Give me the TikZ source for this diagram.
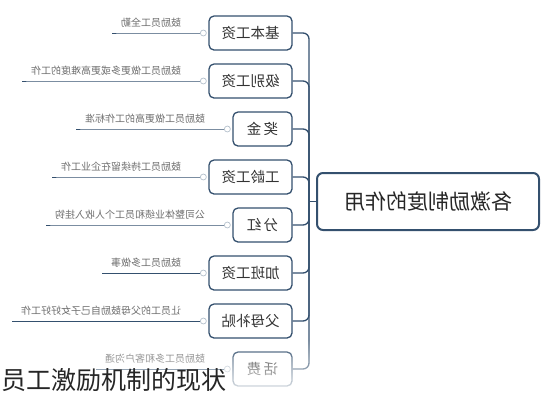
\documentclass[tikz,border=0pt]{standalone}
\usepackage{graphicx}
\usepackage{fontspec}
\setmainfont{Noto Sans CJK SC}
\usetikzlibrary{fadings}
\definecolor{boxblue}{HTML}{34506E}
\definecolor{leafgray}{HTML}{6E6E6E}
\definecolor{dotgray}{HTML}{B4C0CC}

\begin{document}
\begin{tikzpicture}[x=1bp,y=-1bp,
    mainbox/.style={draw=boxblue,line width=2bp,rounded corners=6bp,fill=white,
      minimum width=222bp,minimum height=57bp,text=black!85,
      font=\fontsize{21bp}{21bp}\selectfont},
    subbox/.style={draw=boxblue,line width=1.3bp,rounded corners=5bp,fill=white,
      minimum height=34bp,inner sep=0pt,text=black!80,
      font=\fontsize{14.5bp}{15bp}\selectfont},
    widebox/.style={subbox,minimum width=83bp},
    narrowbox/.style={subbox,minimum width=59bp},
    knob/.style={circle,draw=dotgray,fill=white,line width=0.7bp,inner sep=0pt,minimum size=6bp},
    leaftext/.style={anchor=south east,inner sep=1bp,text=leafgray,
      font=\fontsize{10bp}{10bp}\selectfont},
    branch/.style={draw=boxblue,line width=1.3bp,rounded corners=6bp},
    leaf/.style={draw=boxblue,line width=1bp}]
  \useasboundingbox (0,0) rectangle (552,400);

  % centre
  \node[mainbox] (zuoyong) at (428,201.5) {\reflectbox{各激励制度的作用}};
  \coordinate (trunk) at (309,201.5);

  % boxes
  \node[widebox] (jiben) at (250.5,33) {\reflectbox{基本工资}};
  \node[widebox] (jibie) at (250.5,81) {\reflectbox{级别工资}};
  \node[narrowbox] (jiangjin) at (262.5,129) {\reflectbox{奖\,金}};
  \node[widebox] (gongling) at (250.5,177) {\reflectbox{工龄工资}};
  \node[narrowbox] (fenhong) at (262.5,225) {\reflectbox{分\,红}};
  \node[widebox] (jiaban) at (250.5,273) {\reflectbox{加班工资}};
  \node[widebox] (fumu) at (250.5,321) {\reflectbox{父母补贴}};
  \node[narrowbox] (huafei) at (262.5,369) {\reflectbox{话\,费}};

  \draw[branch] (zuoyong.west) -- (trunk);
  \draw[branch] (jiben.east) -| (trunk);
  \draw[branch] (jibie.east) -| (trunk);
  \draw[branch] (jiangjin.east) -| (trunk);
  \draw[branch] (gongling.east) -| (trunk);
  \draw[branch] (fenhong.east) -| (trunk);
  \draw[branch] (jiaban.east) -| (trunk);
  \draw[branch] (fumu.east) -| (trunk);
  \draw[branch] (huafei.east) -| (trunk);

  % knobs
  \node[knob] (jibenK) at ([xshift=-5bp]jiben.west) {};
  \node[knob] (jibieK) at ([xshift=-5bp]jibie.west) {};
  \node[knob] (jiangjinK) at ([xshift=-5bp]jiangjin.west) {};
  \node[knob] (gonglingK) at ([xshift=-5bp]gongling.west) {};
  \node[knob] (fenhongK) at ([xshift=-5bp]fenhong.west) {};
  \node[knob] (jiabanK) at ([xshift=-5bp]jiaban.west) {};
  \node[knob] (fumuK) at ([xshift=-5bp]fumu.west) {};
  \node[knob] (huafeiK) at ([xshift=-5bp]huafei.west) {};

  % leaf texts
  \node[leaftext] (jibenT) at ([xshift=-21bp,yshift=4bp]jibenK.center) {\reflectbox{鼓励员工全勤}};
  \node[leaftext] (jibieT) at ([xshift=-21bp,yshift=4bp]jibieK.center) {\reflectbox{鼓励员工做更多或更高难度的工作}};
  \node[leaftext] (jiangjinT) at ([xshift=-21bp,yshift=4bp]jiangjinK.center) {\reflectbox{鼓励员工做更高的工作标准}};
  \node[leaftext] (gonglingT) at ([xshift=-21bp,yshift=4bp]gonglingK.center) {\reflectbox{鼓励员工持续留在企业工作}};
  \node[leaftext] (fenhongT) at ([xshift=-21bp,yshift=4bp]fenhongK.center) {\reflectbox{公司整体业绩和员工个人收入挂钩}};
  \node[leaftext] (jiabanT) at ([xshift=-21bp,yshift=4bp]jiabanK.center) {\reflectbox{鼓励员工多做事}};
  \node[leaftext] (fumuT) at ([xshift=-21bp,yshift=4bp]fumuK.center) {\reflectbox{让员工的父母鼓励自己子女好好工作}};
  \node[leaftext] (huafeiT) at ([xshift=-21bp,yshift=4bp]huafeiK.center) {\reflectbox{鼓励员工多和客户沟通}};

  \draw[leaf] (jibenK.west) -- (jibenT.west |- jibenK.west) -- ++(-8,0);
  \draw[leaf] (jibieK.west) -- (jibieT.west |- jibieK.west) -- ++(-8,0);
  \draw[leaf] (jiangjinK.west) -- (jiangjinT.west |- jiangjinK.west) -- ++(-8,0);
  \draw[leaf] (gonglingK.west) -- (gonglingT.west |- gonglingK.west) -- ++(-8,0);
  \draw[leaf] (fenhongK.west) -- (fenhongT.west |- fenhongK.west) -- ++(-8,0);
  \draw[leaf] (jiabanK.west) -- (jiabanT.west |- jiabanK.west) -- ++(-8,0);
  \draw[leaf] (fumuK.west) -- (fumuT.west |- fumuK.west) -- ++(-8,0);
  \draw[leaf] (huafeiK.west) -- (huafeiT.west |- huafeiK.west) -- ++(-8,0);

  % faded bottom and caption
  \fill[white,path fading=north] (0,340) rectangle (330,400);
  \node[anchor=west,inner sep=0pt,text=black!85,font=\fontsize{25bp}{25bp}\selectfont]
    (xianzhuang) at (1,380) {员工激励机制的现状};
\end{tikzpicture}
\end{document}
